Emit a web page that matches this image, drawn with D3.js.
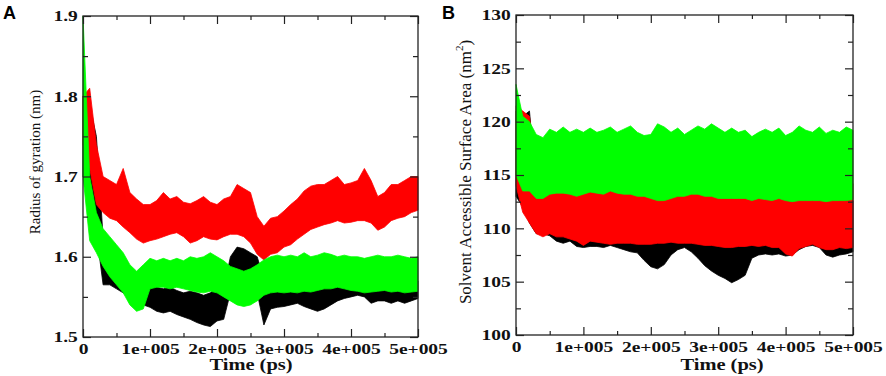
<!DOCTYPE html>
<meta charset="utf-8">
<style>
  body { margin: 0; background: #fff; }
  svg { display: block; }
</style>
<body>
<script src="https://d3js.org/d3.v7.min.js"></script>
<script>
// sample times (x1000 ps)
const timeKps = [0,10,20,30,40,50,60,70,80,90,100,110,120,130,140,150,160,170,180,190,200,
  210,220,230,240,250,260,270,280,290,300,310,320,330,340,350,360,370,380,390,400,
  410,420,430,440,450,460,470,480,490,500];

const xMajor = [0,100000,200000,300000,400000,500000];
const xMinor = [50000,150000,250000,350000,450000];
const xTickLabels = ["0","1e+005","2e+005","3e+005","4e+005","5e+005"];

// panel A : radius of gyration (nm), band low / high per sample
const rgYMajor = [1.5,1.6,1.7,1.8,1.9];
const rgYMinor = [1.55,1.65,1.75,1.85];
const rgTickLabels = ["1.5","1.6","1.7","1.8","1.9"];

const rgBlackLo = [1.70,1.69,1.63,1.565,1.565,1.56,1.555,1.548,1.545,1.54,1.537,1.532,1.53,1.532,1.528,1.525,1.522,1.518,1.515,1.513,
  1.52,1.522,1.555,1.57,1.572,1.568,1.555,1.515,1.535,1.537,1.538,1.54,1.542,1.538,1.535,1.532,1.535,1.54,1.545,1.548,
  1.55,1.552,1.55,1.542,1.545,1.545,1.542,1.545,1.542,1.545,1.548];
const rgBlackHi = [1.80,1.79,1.75,1.625,1.612,1.605,1.598,1.588,1.58,1.568,1.565,1.562,1.56,1.562,1.558,1.555,1.557,1.555,1.552,1.555,
  1.562,1.56,1.60,1.612,1.61,1.605,1.60,1.572,1.567,1.565,1.567,1.568,1.562,1.565,1.562,1.56,1.563,1.565,1.568,1.57,
  1.572,1.572,1.57,1.562,1.565,1.567,1.565,1.568,1.565,1.567,1.57];
const rgRedLo = [1.74,1.71,1.665,1.655,1.648,1.645,1.637,1.63,1.622,1.617,1.62,1.622,1.625,1.628,1.63,1.625,1.617,1.62,1.625,1.622,
  1.621,1.625,1.628,1.628,1.625,1.617,1.603,1.596,1.603,1.605,1.612,1.615,1.622,1.628,1.634,1.637,1.64,1.642,1.645,1.642,
  1.643,1.645,1.645,1.642,1.633,1.637,1.645,1.648,1.65,1.655,1.658];
const rgRedHi = [1.80,1.81,1.74,1.70,1.695,1.69,1.71,1.68,1.672,1.665,1.665,1.67,1.68,1.672,1.675,1.668,1.666,1.67,1.675,1.668,
  1.665,1.672,1.675,1.69,1.685,1.68,1.65,1.638,1.648,1.65,1.657,1.665,1.672,1.682,1.688,1.69,1.69,1.695,1.70,1.69,
  1.692,1.695,1.71,1.695,1.675,1.68,1.69,1.69,1.695,1.70,1.70];
const rgGreenLo = [1.70,1.62,1.605,1.588,1.575,1.565,1.555,1.54,1.532,1.535,1.56,1.562,1.562,1.56,1.562,1.56,1.558,1.556,1.555,1.557,
  1.555,1.55,1.545,1.54,1.538,1.54,1.545,1.552,1.555,1.556,1.555,1.556,1.555,1.557,1.556,1.558,1.56,1.56,1.562,1.56,
  1.558,1.557,1.555,1.556,1.557,1.558,1.556,1.557,1.555,1.556,1.557];
const rgGreenHi = [1.90,1.70,1.655,1.635,1.625,1.615,1.605,1.59,1.582,1.59,1.598,1.595,1.598,1.595,1.598,1.595,1.60,1.598,1.60,1.605,
  1.60,1.595,1.588,1.585,1.582,1.585,1.59,1.596,1.60,1.602,1.60,1.602,1.60,1.605,1.60,1.602,1.605,1.603,1.60,1.602,
  1.60,1.60,1.598,1.60,1.602,1.60,1.60,1.602,1.60,1.598,1.60];

// panel B : solvent accessible surface area (nm^2)
const saYMajor = [100,105,110,115,120,125,130];
const saYMinor = [102.5,107.5,112.5,117.5,122.5,127.5];
const saTickLabels = ["100","105","110","115","120","125","130"];

const saBlackLo = [113,112,110.5,109.5,109.5,109.3,108.8,108.6,108.8,108.3,108.2,108.3,108.3,108.2,108.4,108.2,108,107.8,107.7,107,
  106.4,106.2,106.6,107.5,108,108.2,107.8,107.2,106.5,106,105.6,105.3,104.9,105.2,105.6,107.2,107.5,107.6,107.5,107.6,
  107.4,107.5,108,108.3,108.4,108.2,107.5,107.3,107.5,107.6,107.8];
const saBlackHi = [121,120.5,121,114,113.5,113.5,113.5,113.5,113.3,113.2,113,113,113,113,113,113,112.8,112.5,112.5,112.3,
  112,112,112,112.3,112.5,112.5,112.3,112,111.8,111.5,111.3,111,111,111,111.2,112,112.2,112.3,112.4,112.5,
  112.5,112.6,112.6,112.8,112.8,112.6,112.5,112.4,112.5,112.6,112.6];
const saRedLo = [114,111.5,110.5,109.5,109.2,109.5,109.2,109.2,109,108.8,108.4,108.8,108.7,108.6,108.5,108.6,108.6,108.6,108.5,108.5,
  108.5,108.6,108.6,108.7,108.6,108.6,108.6,108.5,108.4,108.4,108.3,108.2,108.2,108.3,108.3,108.4,108.3,108.4,108.2,108.2,
  107.6,107.4,108.1,108.3,108.5,108.2,108,108,108.2,108.1,108.2];
const saRedHi = [121.5,121,120.5,115,114.5,114.5,114.3,114.2,114.5,114.2,114,114.2,114.4,114.5,114.6,114.5,114.5,114.3,114.7,114.8,
  114.5,114.3,114.5,114.7,114.9,114.8,114.6,114.8,114.6,114.5,114.6,114.7,114.5,114.4,114.6,114.7,114.3,114.2,114,114.2,
  114.3,114,114.2,114.4,114.6,114.2,114.3,114,114.2,114.4,114.2];
const saGreenLo = [115,113.5,113.5,112.8,112.8,113.2,113.3,113.3,113.2,113,113.2,113.4,113.3,113.2,113.5,113.3,113.2,113.2,113,113,
  112.8,112.6,112.6,112.8,113,113,113.2,113.2,113,113,112.8,112.8,112.8,112.8,112.8,112.6,112.8,112.7,112.6,112.8,
  112.6,112.5,112.6,112.6,112.6,112.6,112.5,112.6,112.6,112.6,112.7];
const saGreenHi = [123.5,120.5,120,118.8,118.5,119.3,119,119.5,119,119.3,119,119.4,119,119.2,119.5,119,119.3,119.6,119,118.7,
  118.8,119.8,119.5,119,119.4,118.8,119.2,119.6,119.3,119.8,119.4,119,119.4,119,119.2,118.6,119,119.3,119,119.4,
  118.7,119,119.6,119.2,119,119.5,118.9,119.2,119,119.5,119.2];

const SX = 1.3; // the picture is stretched sideways
const SERIF = '"Liberation Serif", "Times New Roman", serif';

const svg = d3.select("body").append("svg")
    .attr("width", 886)
    .attr("height", 376);

// put font settings on the text itself
function serifText(sel, size, weight) {
  sel.style("font-family", SERIF)
     .style("font-size", size + "px")
     .style("font-weight", weight)
     .attr("fill", "#111");
}

function drawPanel(p) {
  const x = d3.scaleLinear().domain([0, 500000]).range([p.left, p.right]);
  const y = d3.scaleLinear().domain([p.yMajor[0], p.yMajor[p.yMajor.length - 1]]).range([p.bottom, p.top]);

  const band = d3.area()
      .x((d, i) => x(timeKps[i] * 1000))
      .y0(d => y(d[0]))
      .y1(d => y(d[1]));

  // black, red then green on top, like the xmgrace set order
  p.series.forEach(s => {
    const pts = s.lo.map((v, i) => [v, s.hi[i]]);
    svg.append("path")
        .datum(pts)
        .attr("d", band)
        .attr("fill", s.color)
        .attr("stroke", s.color)
        .attr("stroke-width", 0.8);
  });

  svg.append("rect")
      .attr("x", p.left).attr("y", p.top)
      .attr("width", p.right - p.left).attr("height", p.bottom - p.top)
      .attr("fill", "none").attr("stroke", "#222").attr("stroke-width", 1.3);

  const styleAxis = g => {
    g.select(".domain").remove();
    g.attr("color", "#222");
    g.selectAll("line").attr("stroke-width", 1.2);
  };

  // bottom: labelled majors + minors
  svg.append("g").attr("transform", `translate(0,${p.bottom})`)
      .call(d3.axisBottom(x).tickValues(xMajor).tickSize(-8).tickPadding(6).tickFormat((d, i) => xTickLabels[i]))
      .call(styleAxis)
      .call(g => g.selectAll("text").call(serifText, 15, "bold").attr("transform", `scale(${SX},1)`));
  svg.append("g").attr("transform", `translate(0,${p.bottom})`)
      .call(d3.axisBottom(x).tickValues(xMinor).tickSize(-4).tickFormat(""))
      .call(styleAxis);

  // top mirror ticks
  svg.append("g").attr("transform", `translate(0,${p.top})`)
      .call(d3.axisTop(x).tickValues(xMajor).tickSize(-8).tickFormat(""))
      .call(styleAxis);
  svg.append("g").attr("transform", `translate(0,${p.top})`)
      .call(d3.axisTop(x).tickValues(xMinor).tickSize(-4).tickFormat(""))
      .call(styleAxis);

  // left: labelled majors + minors
  svg.append("g").attr("transform", `translate(${p.left},0)`)
      .call(d3.axisLeft(y).tickValues(p.yMajor).tickSize(-8).tickPadding(4).tickFormat((d, i) => p.yLabels[i]))
      .call(styleAxis)
      .call(g => g.selectAll("text").call(serifText, 15, "bold").attr("transform", `scale(${SX},1)`));
  svg.append("g").attr("transform", `translate(${p.left},0)`)
      .call(d3.axisLeft(y).tickValues(p.yMinor).tickSize(-5).tickFormat(""))
      .call(styleAxis);

  // right mirror ticks
  svg.append("g").attr("transform", `translate(${p.right},0)`)
      .call(d3.axisRight(y).tickValues(p.yMajor).tickSize(-8).tickFormat(""))
      .call(styleAxis);
  svg.append("g").attr("transform", `translate(${p.right},0)`)
      .call(d3.axisRight(y).tickValues(p.yMinor).tickSize(-5).tickFormat(""))
      .call(styleAxis);

  // x title
  svg.append("text")
      .attr("transform", `translate(${p.xTitleX},370) scale(1.28,1)`)
      .attr("text-anchor", "middle")
      .call(serifText, 16, "bold")
      .text("Time (ps)");

  // y title
  const yt = svg.append("text")
      .attr("transform", `translate(${p.yTitleX},${p.yTitleY}) rotate(-90)`)
      .attr("text-anchor", "middle")
      .call(serifText, p.yTitleSize, "normal");
  p.yTitle(yt);

  // panel letter
  svg.append("text")
      .attr("x", p.letterX).attr("y", 19)
      .style("font-family", '"Liberation Sans", Arial, sans-serif')
      .style("font-size", "18px").style("font-weight", "bold")
      .text(p.letter);
}

drawPanel({
  left: 83, right: 418, top: 16, bottom: 337,
  yMajor: rgYMajor, yMinor: rgYMinor, yLabels: rgTickLabels,
  series: [
    {lo: rgBlackLo, hi: rgBlackHi, color: "#000000"},
    {lo: rgRedLo, hi: rgRedHi, color: "#ff0000"},
    {lo: rgGreenLo, hi: rgGreenHi, color: "#00ff00"}
  ],
  xTitleX: 251,
  yTitleX: 40, yTitleY: 162, yTitleSize: 15,
  yTitle: t => t.text("Radius of gyration (nm)"),
  letter: "A", letterX: 3
});

drawPanel({
  left: 516, right: 853, top: 15, bottom: 335,
  yMajor: saYMajor, yMinor: saYMinor, yLabels: saTickLabels,
  series: [
    {lo: saBlackLo, hi: saBlackHi, color: "#000000"},
    {lo: saRedLo, hi: saRedHi, color: "#ff0000"},
    {lo: saGreenLo, hi: saGreenHi, color: "#00ff00"}
  ],
  xTitleX: 722,
  yTitleX: 471, yTitleY: 172, yTitleSize: 17,
  yTitle: t => {
    t.append("tspan").text("Solvent Accessible Surface Area (nm");
    t.append("tspan").style("font-size", "11px").attr("dy", -8).text("2");
    t.append("tspan").attr("dy", 8).text(")");
  },
  letter: "B", letterX: 442
});
</script>
</body>
